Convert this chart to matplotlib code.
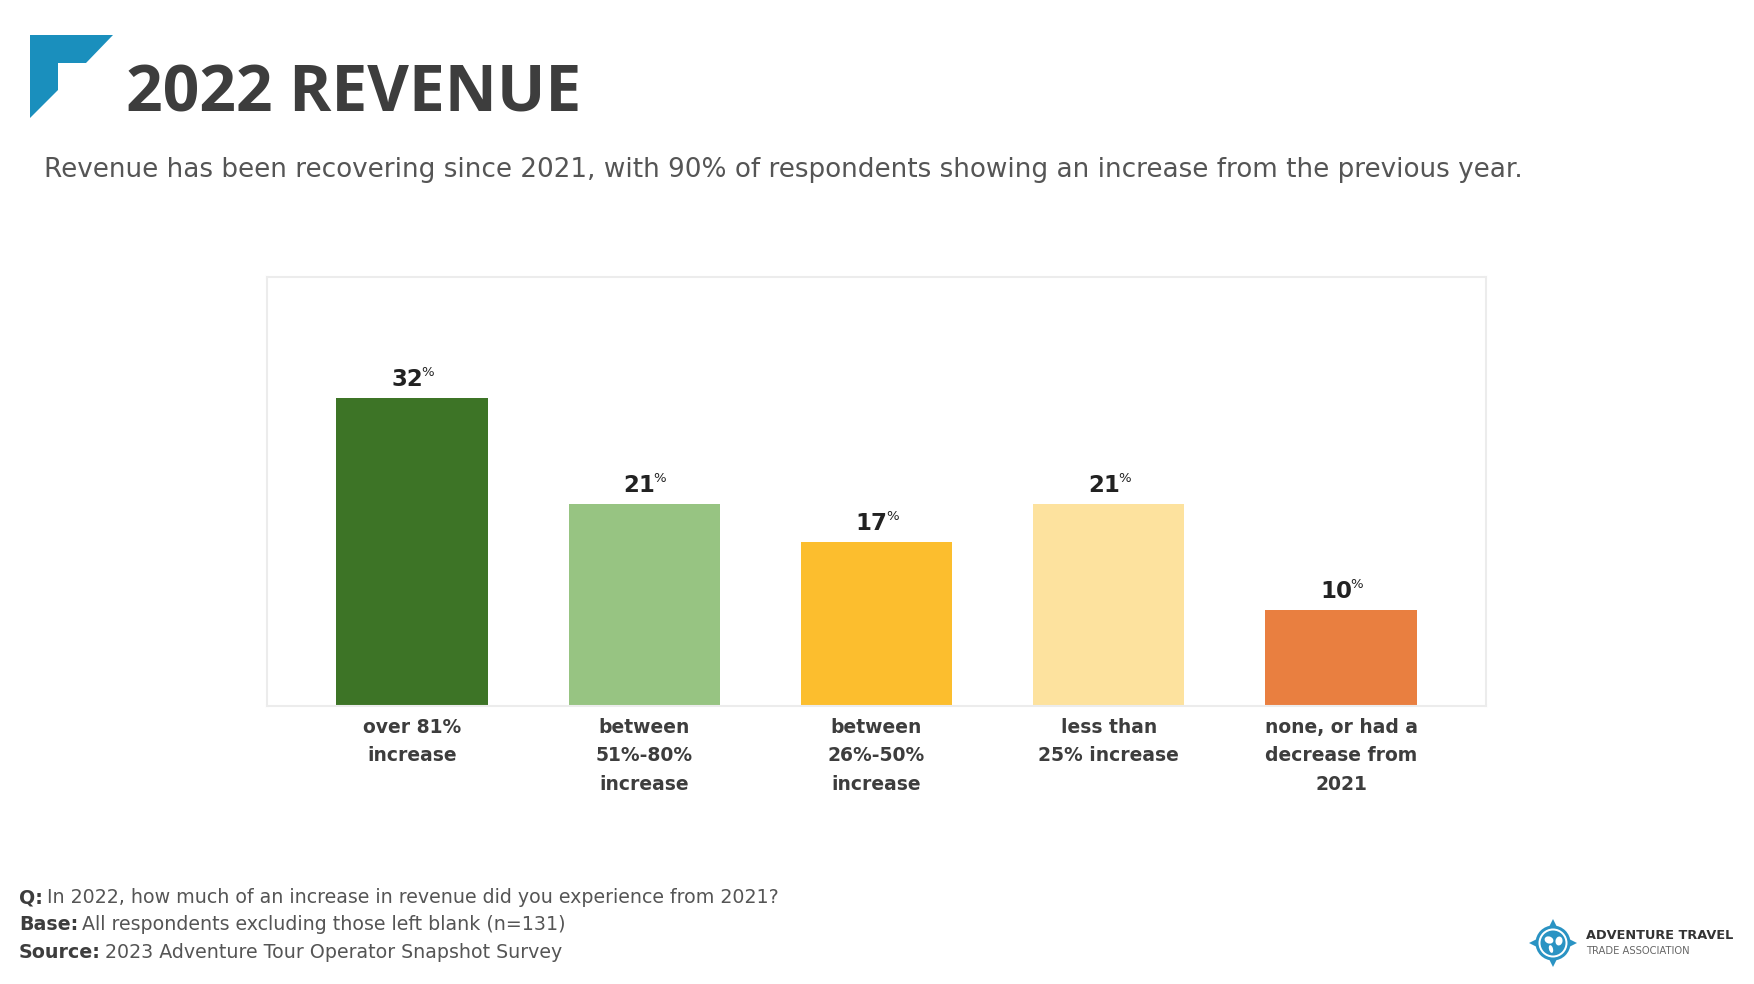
import matplotlib
matplotlib.use("Agg")
import matplotlib.pyplot as plt
from matplotlib.patches import Polygon, Circle, Ellipse
import numpy as np

# ---- data ----
categories = ["over 81%\nincrease", "between\n51%-80%\nincrease", "between\n26%-50%\nincrease",
              "less than\n25% increase", "none, or had a\ndecrease from\n2021"]
values = [32, 21, 17, 21, 10]
colors = ["#3d7426", "#97c482", "#fcbe2e", "#fde29e", "#e97f40"]

title = "2022 REVENUE"
subtitle = ("Revenue has been recovering since 2021, with 90% of respondents "
            "showing an increase from the previous year.")
footer_keys = ["Q:", "Base:", "Source:"]
footer_texts = ["In 2022, how much of an increase in revenue did you experience from 2021?",
                "All respondents excluding those left blank (n=131)",
                "2023 Adventure Tour Operator Snapshot Survey"]

plt.rcParams['font.family'] = ['DejaVu Sans']

W, H = 1754, 984
fig = plt.figure(figsize=(W / 100, H / 100), dpi=100)
fig.patch.set_facecolor('white')

# background overlay in pixel coordinates
bg = fig.add_axes([0, 0, 1, 1])
bg.set_xlim(0, W)
bg.set_ylim(H, 0)
bg.axis('off')

# top-left logo shape
bg.add_patch(Polygon([(30, 35), (113, 35), (86, 63), (58, 63), (58, 90), (30, 118)],
                     closed=True, facecolor='#1a8fbd', edgecolor='none'))

bg.text(126, 112, title, fontsize=46.2, fontweight='bold', color='#3d3d3d', va='baseline',
        ha='left', family=['Open Sans', 'DejaVu Sans'])
bg.text(44, 177, subtitle, fontsize=18.9, color='#555555', va='baseline', ha='left')

# footer
for i, (k, t) in enumerate(zip(footer_keys, footer_texts)):
    kt = bg.text(19, 903 + 27.5 * i, k, fontsize=13.7, fontweight='bold', color='#3d3d3d',
                 va='baseline', ha='left')
    bg.annotate(t, xy=(1, 0), xycoords=kt, xytext=(3, 0), textcoords='offset points',
                va='bottom', ha='left', fontsize=13.7, color='#555555')

# bottom-right association logo
cx, cy = 1553, 943
blue = '#2a93c3'
for (dx, dy) in [(0, -1), (0, 1), (-1, 0), (1, 0)]:
    px, py = -dy, dx
    tip = (cx + dx * 24, cy + dy * 24)
    b1 = (cx + dx * 14 + px * 5, cy + dy * 14 + py * 5)
    b2 = (cx + dx * 14 - px * 5, cy + dy * 14 - py * 5)
    bg.add_patch(Polygon([tip, b1, b2], closed=True, facecolor=blue, edgecolor='none'))
bg.add_patch(Circle((cx, cy), 17.5, facecolor=blue, edgecolor='none'))
bg.add_patch(Circle((cx, cy), 14.5, facecolor='white', edgecolor='none'))
bg.add_patch(Circle((cx, cy), 12.5, facecolor=blue, edgecolor='none'))
bg.add_patch(Ellipse((cx - 4, cy - 3), 9, 7, angle=20, facecolor='white', edgecolor='none'))
bg.add_patch(Ellipse((cx - 2, cy + 6), 4, 8, angle=-15, facecolor='white', edgecolor='none'))
bg.add_patch(Ellipse((cx + 6, cy - 2), 7, 9, angle=10, facecolor='white', edgecolor='none'))
bg.text(1586, 939, "ADVENTURE TRAVEL", fontsize=9.3, fontweight='bold', color='#333333',
        va='baseline', ha='left')
bg.text(1586, 954, "TRADE ASSOCIATION", fontsize=7.2, color='#666666', va='baseline', ha='left')

# ---- chart ----
ax = fig.add_axes([267 / W, 1 - 706 / H, (1486 - 267) / W, (706 - 277) / H])
x = np.arange(len(values))
ax.bar(x, values, width=0.6506, color=colors, zorder=2)
ax.set_xlim(-0.624, len(values) - 1 + 0.624)
ax.set_ylim(0, 44.5)
ax.set_yticks([])
ax.set_xticks(x, labels=categories)
ax.tick_params(axis='x', length=0, pad=8.5)
for lab in ax.get_xticklabels():
    lab.set_fontsize(13.5)
    lab.set_fontweight('bold')
    lab.set_color('#3d3d3d')
    lab.set_linespacing(1.64)
for s in ax.spines.values():
    s.set_color('#ececec')
    s.set_linewidth(1.5)

for xi, v in zip(x, values):
    t = ax.annotate(f"{v}", xy=(xi, v), xytext=(-3.5, 8.5), textcoords='offset points',
                    ha='center', va='baseline', fontsize=16.5, fontweight='bold', color='#222222')
    ax.annotate('%', xy=(1, 1), xycoords=t, xytext=(-1.2, 1.5), textcoords='offset points',
                ha='left', va='top', fontsize=9.5, color='#222222')

fig.savefig('out.png', dpi=100, facecolor='white')
